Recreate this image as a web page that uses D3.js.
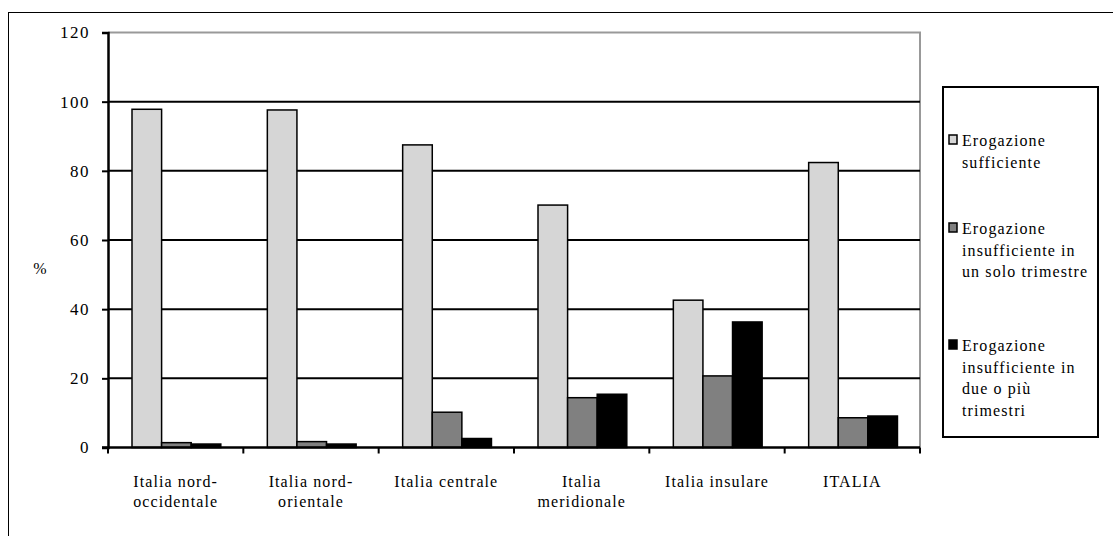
<!DOCTYPE html>
<html><head><meta charset="utf-8">
<script src="https://cdn.jsdelivr.net/npm/d3@7"></script>
<style>body{margin:0;background:#fff}svg{display:block}</style>
</head><body>
<svg id="c" width="1113" height="536" font-family="Liberation Serif, DejaVu Serif, serif"></svg>
<script>
const categories = [["Italia nord-","occidentale"],["Italia nord-","orientale"],["Italia centrale"],["Italia","meridionale"],["Italia insulare"],["ITALIA"]];
const seriesNames = [["Erogazione","sufficiente"],["Erogazione","insufficiente in","un solo trimestre"],["Erogazione","insufficiente in","due o più","trimestri"]];
const sufficiente = [97.8, 97.6, 87.5, 70.1, 42.6, 82.4];
const unTrimestre = [1.4, 1.7, 10.2, 14.4, 20.7, 8.6];
const duePiu = [1.0, 1.0, 2.6, 15.4, 36.3, 9.1];
const yTicks = [0, 20, 40, 60, 80, 100, 120];
const colors = ["#d6d6d6", "#808080", "#000000"];
const series = [sufficiente, unTrimestre, duePiu];
const FONT = "Liberation Serif, DejaVu Serif, serif";
const LS = "1.1px";

const svg = d3.select("#c");
svg.append("rect").attr("x",8.5).attr("y",12.5).attr("width",1300).attr("height",700).attr("fill","none").attr("stroke","#000").attr("stroke-width",1);

const L=108, R=920, T=32.5, B=447.5;
const x = d3.scaleBand().domain(d3.range(categories.length)).range([L,R]);
const inner = d3.scaleBand().domain([0,1,2]).range([24, 24+3*29.6]);
const y = d3.scaleLinear().domain([0,120]).range([B,T]);

svg.append("path").attr("d",`M${L},${T}H${R}V${B}`).attr("fill","none").attr("stroke","#999").attr("stroke-width",2);
svg.append("g").selectAll("line").data(yTicks.filter(d=>d>0&&d<120)).join("line")
  .attr("x1",L).attr("x2",R).attr("y1",d=>y(d)).attr("y2",d=>y(d)).attr("stroke","#000").attr("stroke-width",2);

series.forEach((vals,si)=>{
  svg.append("g").selectAll("rect").data(vals).join("rect")
    .attr("x",(d,i)=>x(i)+inner(si)).attr("width",inner.bandwidth())
    .attr("y",d=>y(d)).attr("height",d=>B-y(d))
    .attr("fill",colors[si]).attr("stroke","#000").attr("stroke-width",1.5);
});

const ya = svg.append("g").attr("transform",`translate(${L},0)`).call(d3.axisLeft(y).tickValues(yTicks).tickSize(6).tickPadding(12));
ya.attr("font-family",FONT).attr("font-size",17);
ya.select(".domain").attr("stroke","#000").attr("stroke-width",2.5);
ya.selectAll(".tick line").attr("stroke","#000").attr("stroke-width",2);
ya.selectAll(".tick text").attr("font-family",FONT).attr("fill","#000").attr("letter-spacing","1.5px");
svg.append("line").attr("x1",L-6).attr("x2",R).attr("y1",B).attr("y2",B).attr("stroke","#000").attr("stroke-width",2.5);
const bounds = d3.range(categories.length+1).map(i=> i<categories.length? x(i): R);
svg.append("g").selectAll("line").data(bounds).join("line")
  .attr("x1",d=>d).attr("x2",d=>d).attr("y1",B).attr("y2",B+6).attr("stroke","#000").attr("stroke-width",2);
const xl = svg.append("g").selectAll("text").data(categories).join("text")
  .attr("text-anchor","middle").attr("font-family",FONT).attr("font-size",16).attr("letter-spacing",LS)
  .attr("transform",(d,i)=>`translate(${x(i)+x.bandwidth()/2},${B+39})`);
xl.each(function(d){ d3.select(this).selectAll("tspan").data(d).join("tspan").attr("x",0).attr("dy",(t,j)=>j?20:0).text(t=>t); });

svg.append("text").attr("x",40).attr("y",274).attr("text-anchor","middle").attr("font-family",FONT).attr("font-size",16).text("%");

svg.append("rect").attr("x",943).attr("y",87).attr("width",155).attr("height",350).attr("fill","#fff").attr("stroke","#000").attr("stroke-width",2);
const legY = [146, 234, 351];
seriesNames.forEach((lines,si)=>{
  svg.append("rect").attr("x",949).attr("y",legY[si]-11).attr("width",8).attr("height",9).attr("fill",colors[si]).attr("stroke","#000").attr("stroke-width",1.5);
  const t = svg.append("text").attr("x",962).attr("y",legY[si]).attr("font-family",FONT).attr("font-size",16).attr("letter-spacing",LS);
  t.selectAll("tspan").data(lines).join("tspan").attr("x",962).attr("dy",(s,j)=>j?21.5:0).text(s=>s);
});
</script>
</body></html>
